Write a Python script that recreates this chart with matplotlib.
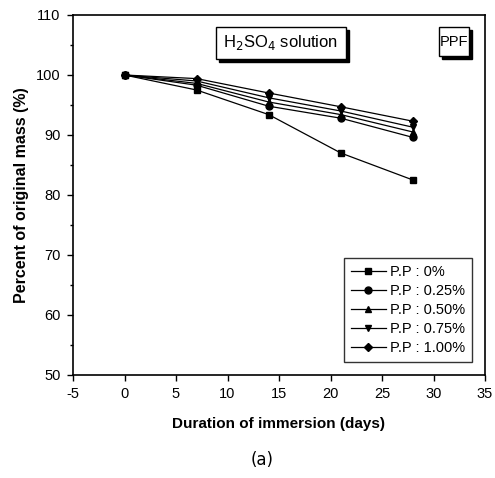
import matplotlib
matplotlib.use("Agg")
import matplotlib.pyplot as plt
from matplotlib.ticker import MultipleLocator
from matplotlib.patches import Rectangle

plt.rcParams['font.family'] = ['Liberation Sans', 'DejaVu Sans']
plt.rcParams['axes.unicode_minus'] = False

days = [0, 7, 14, 21, 28]
pp_0 = [100.0, 97.5, 93.4, 87.0, 82.5]
pp_025 = [100.0, 98.3, 94.8, 92.8, 89.6]
pp_050 = [100.0, 98.6, 95.5, 93.4, 90.5]
pp_075 = [100.0, 99.0, 96.2, 94.0, 91.3]
pp_100 = [100.0, 99.4, 97.0, 94.7, 92.3]
labels = ["P.P : 0%", "P.P : 0.25%", "P.P : 0.50%", "P.P : 0.75%", "P.P : 1.00%"]
markers = ['s', 'o', '^', 'v', 'D']
series = [pp_0, pp_025, pp_050, pp_075, pp_100]

W, H = 495, 478
fig = plt.figure(figsize=(W / 100, H / 100), dpi=100)
ax = fig.add_axes([73 / W, 1 - 375 / H, (485 - 73) / W, (375 - 15) / H])

for vals, m, lab in zip(series, markers, labels):
    ms = {'s': 4.2, 'o': 5, '^': 5, 'v': 5, 'D': 4.2}[m]
    ax.plot(days, vals, color='black', lw=0.9, marker=m, ms=ms, label=lab)

ax.set_xlim(-5, 35)
ax.set_ylim(50, 110)
ax.xaxis.set_major_locator(MultipleLocator(5))
ax.yaxis.set_major_locator(MultipleLocator(10))
ax.yaxis.set_minor_locator(MultipleLocator(5))
ax.tick_params(axis='both', which='major', direction='out', length=4, width=1, labelsize=10.5, pad=5)
ax.tick_params(axis='both', which='minor', direction='out', length=2.5, width=1)
for s in ax.spines.values():
    s.set_linewidth(1.2)

ax.set_xlabel("Duration of immersion (days)", fontsize=11, fontweight='bold', labelpad=11)
ax.set_ylabel("Percent of original mass (%)", fontsize=11.5, fontweight='bold', labelpad=5)

leg = ax.legend(loc='lower right', fontsize=10.5, frameon=True, fancybox=False,
                edgecolor='black', handlelength=2.4, handletextpad=0.3,
                borderpad=0.45, labelspacing=0.35, borderaxespad=0,
                bbox_to_anchor=((472 - 73) / 412, (375 - 362) / 360))
leg.get_frame().set_linewidth(1.0)

# text boxes with shadow
def shadow_box(x0, y0, x1, y1, text, fs):
    fx0, fx1 = x0 / W, x1 / W
    fy0, fy1 = 1 - y1 / H, 1 - y0 / H
    sh = 3
    fig.patches.append(Rectangle((fx0 + sh / W, fy0 - sh / H), fx1 - fx0, fy1 - fy0,
                                 transform=fig.transFigure, facecolor='black',
                                 edgecolor='black', zorder=5))
    fig.patches.append(Rectangle((fx0, fy0), fx1 - fx0, fy1 - fy0,
                                 transform=fig.transFigure, facecolor='white',
                                 edgecolor='black', lw=1.0, zorder=6))
    fig.text((fx0 + fx1) / 2, (fy0 + fy1) / 2, text, ha='center', va='center',
             fontsize=fs, zorder=7)

shadow_box(216, 27, 346, 59, r"H$_2$SO$_4$ solution", 12)
shadow_box(439, 27, 469, 56, "PPF", 10.5)

fig.text(262 / W, 1 - 460 / H, "(a)", ha='center', va='center', fontsize=12,
         family=['DejaVu Sans'])

fig.savefig("out.png", dpi=100)
